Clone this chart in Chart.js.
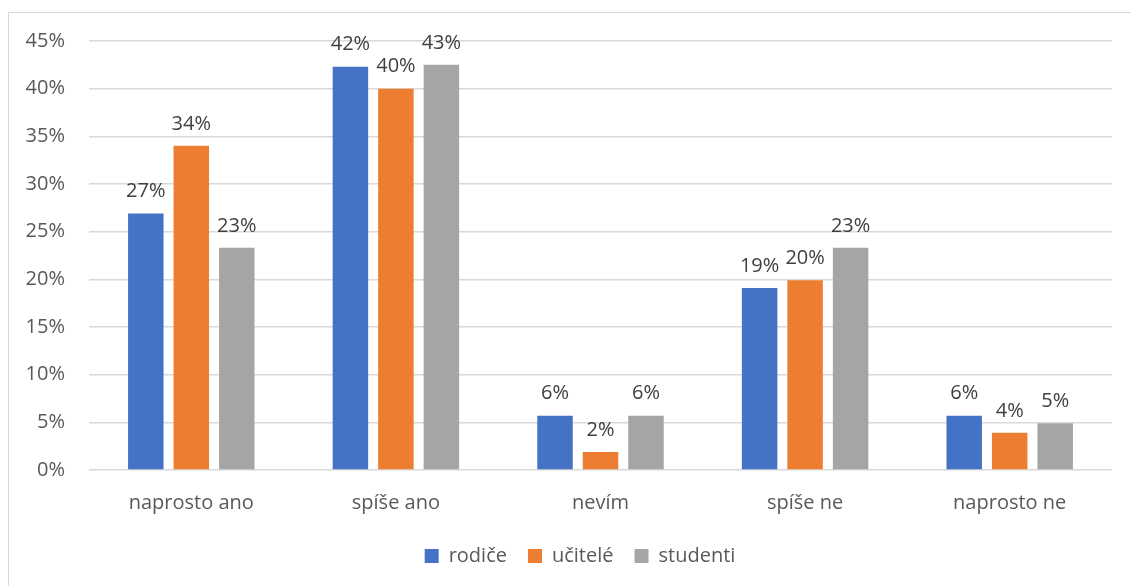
<!DOCTYPE html>
<html>
<head>
<meta charset="utf-8">
<script src="https://cdn.jsdelivr.net/npm/chart.js@4"></script>
<style>
  html, body { margin: 0; padding: 0; background: #ffffff; }
  #wrap { position: relative; width: 1131px; height: 586px; overflow: hidden; }
  #frame {
    position: absolute; left: 8px; top: 12px; width: 1140px; height: 600px;
    border: 1px solid #d9d9d9; box-sizing: border-box;
  }
  #chart { position: absolute; left: 0; top: 0; }
</style>
</head>
<body>
<div id="wrap">
  <div id="frame"></div>
  <canvas id="chart" width="1131" height="586"></canvas>
</div>
<script>
"use strict";

const categories = ["naprosto ano", "spíše ano", "nevím", "spíše ne", "naprosto ne"];
const rodice = [26.9, 42.3, 5.7, 19.1, 5.7];
const ucitele = [34.0, 40.0, 1.9, 19.9, 3.9];
const studenti = [23.3, 42.5, 5.7, 23.3, 4.9];
const yTicks = [0, 5, 10, 15, 20, 25, 30, 35, 40, 45];

const fontFamily = "'Open Sans', 'DejaVu Sans', sans-serif";
const textColor = "#595959";

const valueLabels = {
  id: "valueLabels",
  afterDatasetsDraw(chart) {
    const ctx = chart.ctx;
    ctx.save();
    ctx.font = "20px " + fontFamily;
    ctx.fillStyle = "#404040";
    ctx.textAlign = "center";
    ctx.textBaseline = "bottom";
    chart.data.datasets.forEach((ds, i) => {
      const meta = chart.getDatasetMeta(i);
      meta.data.forEach((bar, j) => {
        ctx.fillText(Math.round(ds.data[j]) + "%", bar.x, bar.y - 12);
      });
    });
    ctx.restore();
  },
};

// the original legend sits a bit right of the canvas centre
const legendShift = {
  id: "legendShift",
  afterLayout(chart) {
    if (chart.legend) {
      chart.legend.left += 24;
      chart.legend.right += 24;
    }
  },
};

const ctx = document.getElementById("chart").getContext("2d");

new Chart(ctx, {
  type: "bar",
  data: {
    labels: categories,
    datasets: [
      { label: "rodiče", data: rodice, backgroundColor: "#4472c4" },
      { label: "učitelé", data: ucitele, backgroundColor: "#ed7d31" },
      { label: "studenti", data: studenti, backgroundColor: "#a5a5a5" },
    ],
  },
  options: {
    responsive: false,
    animation: false,
    layout: {
      padding: { left: 0, right: 19, top: 41, bottom: 10 },
    },
    datasets: {
      bar: {
        categoryPercentage: 0.667,
        barPercentage: 0.78,
      },
    },
    plugins: {
      legend: {
        position: "bottom",
        labels: {
          boxWidth: 14,
          boxHeight: 14,
          padding: 21,
          color: textColor,
          font: { size: 20, family: fontFamily },
        },
      },
      tooltip: { enabled: false },
    },
    scales: {
      x: {
        grid: { display: false, drawTicks: false },
        border: { display: false },
        ticks: {
          color: textColor,
          padding: 21,
          font: { size: 20, family: fontFamily },
        },
        afterFit: (scale) => {
          scale.height = 55;
        },
      },
      y: {
        min: 0,
        max: 45,
        afterBuildTicks: (scale) => {
          scale.ticks = yTicks.map((v) => ({ value: v }));
        },
        grid: { color: "#d9d9d9", lineWidth: 1.5, drawTicks: false },
        border: { display: false },
        ticks: {
          color: textColor,
          padding: 24,
          font: { size: 20, family: fontFamily },
          callback: (v) => v + "%",
        },
        afterFit: (scale) => {
          scale.width = 89;
        },
      },
    },
  },
  plugins: [valueLabels, legendShift],
});
</script>
</body>
</html>
